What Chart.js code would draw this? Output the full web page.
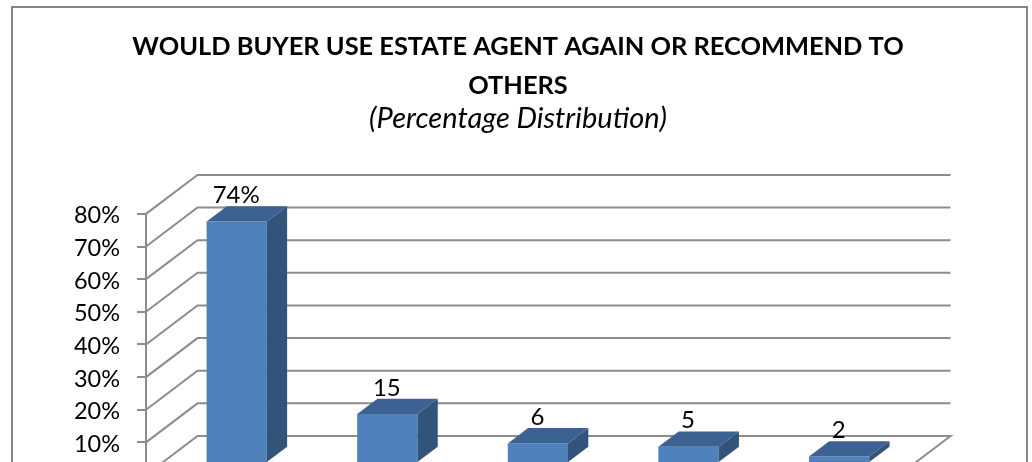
<!DOCTYPE html>
<html><head><meta charset="utf-8">
<script src="https://cdn.jsdelivr.net/npm/chart.js@4"></script>
<style>html,body{margin:0;padding:0;background:#fff;overflow:hidden;width:1032px;height:462px}canvas{display:block}</style>
</head><body><canvas id="c" width="1032" height="520"></canvas>
<script>
const categories = ["A","B","C","D","E"];
const values = [74,15,6,5,2];
const valueLabels = ["74%","15","6","5","2"];
const titleLines = ["WOULD BUYER USE ESTATE AGENT AGAIN OR RECOMMEND TO","OTHERS"];
const subtitleText = "(Percentage Distribution)";
const FONT = "Lato, Carlito, Calibri, sans-serif";
const GRID = "#8c8c8c";
const wall = {dx:51.5, dy:-39};
const barShift = {x:15.4, y:-12};
const barDepth = {dx:20.3, dy:-15.3};

const frame = {id:"frame", beforeDraw(ch){
  const g=ch.ctx; g.save(); g.strokeStyle="#868686"; g.lineWidth=2;
  g.strokeRect(12,7,1015,600); g.restore();
}};
const walls = {id:"walls", beforeDatasetsDraw(ch){
  const g=ch.ctx, y=ch.scales.y, a=ch.chartArea;
  g.save(); g.strokeStyle=GRID; g.lineWidth=2;
  y.ticks.forEach(t=>{
    const p=y.getPixelForValue(t.value);
    g.beginPath(); g.moveTo(a.left,p); g.lineTo(a.left+wall.dx,p+wall.dy);
    g.lineTo(a.right+wall.dx,p+wall.dy);
    if(t.value===0) g.lineTo(a.right,p);
    g.stroke();
  });
  g.restore();
}};
const bars3d = {id:"bars3d",
  beforeDatasetDraw(ch){ ch.ctx.save(); ch.ctx.translate(barShift.x,barShift.y); },
  afterDatasetDraw(ch){
    const g=ch.ctx, d=barDepth;
    ch.getDatasetMeta(0).data.forEach((b,i)=>{
      const l=b.x-b.width/2, r=b.x+b.width/2, t=b.y, bt=b.base;
      g.fillStyle="#32537A";
      g.beginPath(); g.moveTo(r,t); g.lineTo(r+d.dx,t+d.dy); g.lineTo(r+d.dx,bt+d.dy); g.lineTo(r,bt); g.closePath(); g.fill();
      g.fillStyle="#3C6291";
      g.beginPath(); g.moveTo(l,t); g.lineTo(l+d.dx,t+d.dy); g.lineTo(r+d.dx,t+d.dy); g.lineTo(r,t); g.closePath(); g.fill();
      g.fillStyle="#000"; g.font="24px "+FONT; g.textAlign="center"; g.textBaseline="alphabetic";
      g.fillText(valueLabels[i], b.x-0.5, t+d.dy-3);
    });
    g.restore();
  }
};
new Chart(document.getElementById("c"),{
  type:"bar",
  data:{labels:categories,datasets:[{data:values,backgroundColor:"#4F81BD",barPercentage:0.4,categoryPercentage:1,clip:false}]},
  plugins:[frame,walls,bars3d],
  options:{
    responsive:false,animation:false,
    layout:{padding:{left:4,right:0,top:0,bottom:45}},
    plugins:{
      legend:{display:false},tooltip:{enabled:false},
      title:{display:true,text:titleLines,color:"#000",font:{family:FONT,size:25.4,weight:"bold",lineHeight:1.535},padding:{top:27.5,bottom:-2.5}},
      subtitle:{display:true,text:subtitleText,color:"#000",font:{family:FONT,size:29,style:"italic",lineHeight:1.1},padding:{top:0,bottom:79}}
    },
    scales:{
      x:{display:false},
      y:{min:0,max:80,
        afterFit(s){s.width=142;},
        ticks:{stepSize:10,color:"#000",padding:17,labelOffset:2,font:{family:FONT,size:23.5},callback:v=>v+"%"},
        grid:{drawOnChartArea:false,drawTicks:true,tickLength:9,color:GRID,lineWidth:2},
        border:{color:GRID,width:2}
      },
      r:{type:"linear",position:"right",afterFit(s){s.width=133;},
        ticks:{display:false},grid:{display:false},border:{display:false}}
    }
  }
});
</script></body></html>
